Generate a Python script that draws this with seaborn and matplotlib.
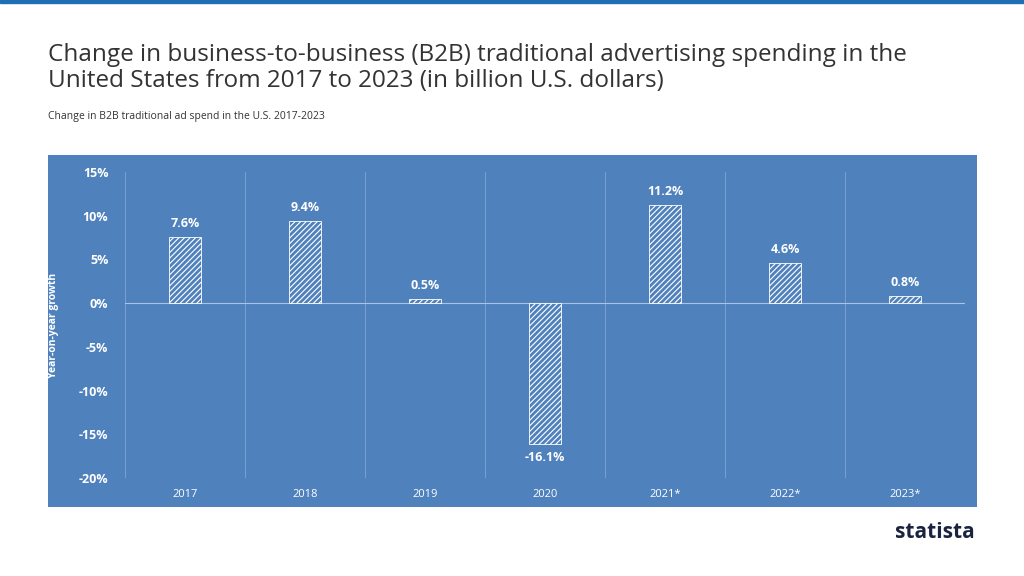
import matplotlib
matplotlib.use("Agg")
import matplotlib.pyplot as plt
import seaborn as sns
import pandas as pd
from matplotlib.patches import Rectangle

years = ["2017", "2018", "2019", "2020", "2021*", "2022*", "2023*"]
growth = [7.6, 9.4, 0.5, -16.1, 11.2, 4.6, 0.8]
yticks = [15, 10, 5, 0, -5, -10, -15, -20]

BLUE = "#4f81bd"
plt.rcParams["font.family"] = "Open Sans"
plt.rcParams["hatch.color"] = "white"
plt.rcParams["hatch.linewidth"] = 0.8

fig = plt.figure(figsize=(10.24, 5.76), dpi=100)
fig.patches.append(Rectangle((0, 1 - 3/576), 1, 3/576, transform=fig.transFigure, color="#1f6fb5"))
bg = fig.add_axes([48/1024, 1 - 507/576, 929/1024, 352/576], zorder=-1)
bg.set_facecolor(BLUE)
bg.set_xticks([]); bg.set_yticks([])
for s in bg.spines.values():
    s.set_visible(False)
fig.text(48/1024, 1 - 68/576, "Change in business-to-business (B2B) traditional advertising spending in the\nUnited States from 2017 to 2023 (in billion U.S. dollars)",
         fontsize=17.5, color="#333333", va="center", linespacing=1.15)
fig.text(48/1024, 1 - 116/576, "Change in B2B traditional ad spend in the U.S. 2017-2023", fontsize=7.5, color="#333333", va="center")
fig.text(975/1024, 1 - 533/576, "statista", fontsize=15, fontweight="bold", color="#1a2340", ha="right", va="center")

ax = fig.add_axes([125/1024, 1 - 478/576, 840/1024, 306/576])
ax.set_facecolor(BLUE)
ax.patch.set_alpha(0)
df = pd.DataFrame({"year": years, "growth": growth})
sns.barplot(data=df, x="year", y="growth", ax=ax, color=BLUE, width=0.27, edgecolor="white", linewidth=0.6, hatch="//////")
for p in ax.patches:
    p.set_facecolor(BLUE)
for i, v in enumerate(growth):
    ax.text(i, v + (0.8 if v >= 0 else -0.8), f"{v}%", ha="center", va="bottom" if v >= 0 else "top",
            color="white", fontsize=9, fontweight="bold")
ax.set_ylim(-20, 15)
ax.set_xlim(-0.5, 6.5)
ax.set_yticks(yticks)
ax.set_yticklabels([f"{t}%" for t in yticks], color="white", fontsize=9, fontweight="bold")
ax.set_xticks(range(len(years)))
ax.set_xticklabels(years, color="white", fontsize=8)
ax.tick_params(length=0, axis="y", pad=12)
ax.tick_params(length=0, axis="x", pad=8)
for x in [i + 0.5 for i in range(-1, 7)]:
    ax.axvline(x, color="#7aa0d0", lw=0.7, zorder=0)
ax.axhline(0, color="#a9c3e3", lw=0.8, zorder=0)
ax.set_xlabel("")
ax.set_ylabel("Year-on-year growth", color="white", fontsize=7.5, fontweight="bold", labelpad=14)
for s in ax.spines.values():
    s.set_visible(False)
fig.savefig("out.png", dpi=100)
